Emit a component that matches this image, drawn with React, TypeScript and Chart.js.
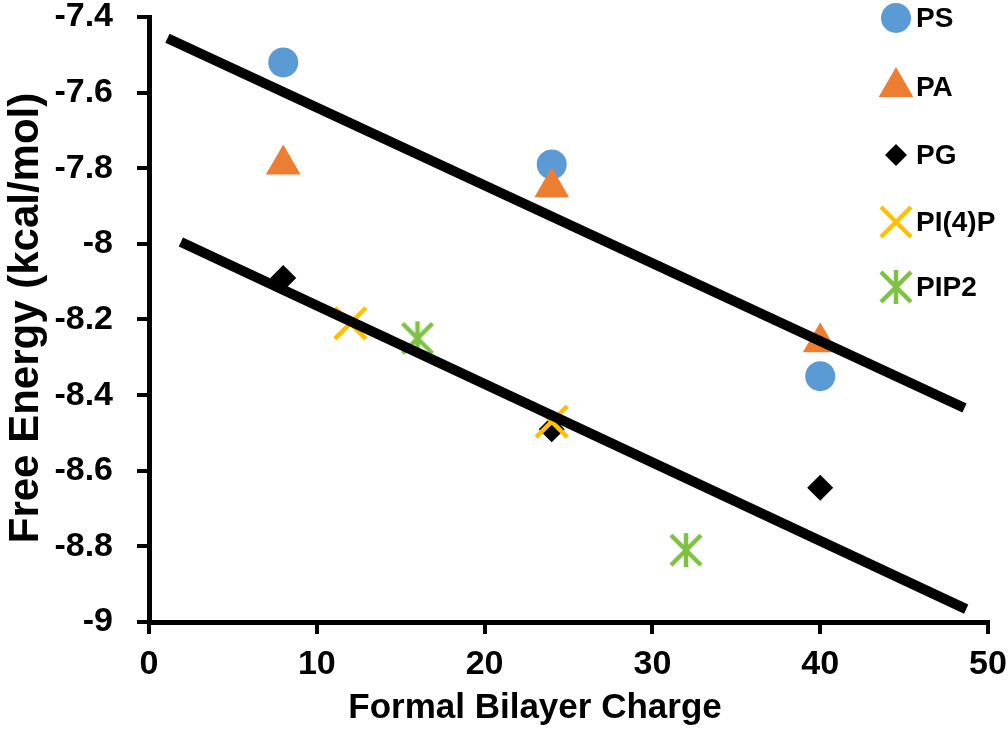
import React, { useEffect, useRef } from 'react';
import { Chart, registerables } from 'chart.js';

Chart.register(...registerables);

// ---- Data ----
const seriesNames = ['PS', 'PA', 'PG', 'PI(4)P', 'PIP2'];
const psCharge = [8, 24, 40];
const psEnergy = [-7.52, -7.79, -8.35];
const paCharge = [8, 24, 40];
const paEnergy = [-7.79, -7.85, -8.26];
const pgCharge = [8, 24, 40];
const pgEnergy = [-8.09, -8.49, -8.645];
const pi4pCharge = [12, 24];
const pi4pEnergy = [-8.21, -8.47];
const pip2Charge = [16, 32];
const pip2Energy = [-8.25, -8.81];
const upperFitX = [1.1, 48.6];
const upperFitY = [-7.456, -8.434];
const lowerFitX = [1.9, 48.7];
const lowerFitY = [-7.995, -8.966];
const xTickValues = [0, 10, 20, 30, 40, 50];
const yTickValues = [-9, -8.8, -8.6, -8.4, -8.2, -8, -7.8, -7.6, -7.4];
const xTitle = 'Formal Bilayer Charge';
const yTitle = 'Free Energy (kcal/mol)';

const COLORS = ['#5B9BD5', '#ED7D31', '#000000', '#FFC000', '#7DC243'];
const FONT = '"Liberation Sans", Arial, Helvetica, sans-serif';

const pts = (xs: number[], ys: number[]) => xs.map((x, i) => ({ x, y: ys[i] }));

function makeStar(color: string): HTMLCanvasElement {
  const c = document.createElement('canvas');
  c.width = 40;
  c.height = 40;
  const g = c.getContext('2d')!;
  g.strokeStyle = color;
  g.lineWidth = 4.5;
  g.beginPath();
  g.moveTo(20 - 15, 20 - 15);
  g.lineTo(20 + 15, 20 + 15);
  g.moveTo(20 + 15, 20 - 15);
  g.lineTo(20 - 15, 20 + 15);
  g.moveTo(20, 20 - 17);
  g.lineTo(20, 20 + 17);
  g.stroke();
  return c;
}

function drawMarker(ctx: CanvasRenderingContext2D, kind: string, x: number, y: number, color: string, img?: HTMLCanvasElement) {
  ctx.save();
  ctx.fillStyle = color;
  ctx.strokeStyle = color;
  ctx.beginPath();
  if (kind === 'circle') {
    ctx.arc(x, y, 15, 0, Math.PI * 2);
    ctx.fill();
  } else if (kind === 'triangle') {
    const r = 20;
    ctx.moveTo(x, y - r);
    ctx.lineTo(x + r * Math.sin(Math.PI * 2 / 3), y - r * Math.cos(Math.PI * 2 / 3));
    ctx.lineTo(x - r * Math.sin(Math.PI * 2 / 3), y - r * Math.cos(Math.PI * 2 / 3));
    ctx.closePath();
    ctx.fill();
  } else if (kind === 'rectRot') {
    const r = 11;
    ctx.moveTo(x - r, y);
    ctx.lineTo(x, y - r);
    ctx.lineTo(x + r, y);
    ctx.lineTo(x, y + r);
    ctx.closePath();
    ctx.fill();
  } else if (kind === 'crossRot') {
    const h = 15;
    ctx.lineWidth = 4.5;
    ctx.moveTo(x - h, y - h);
    ctx.lineTo(x + h, y + h);
    ctx.moveTo(x + h, y - h);
    ctx.lineTo(x - h, y + h);
    ctx.stroke();
  } else if (kind === 'image' && img) {
    ctx.drawImage(img, x - img.width / 2, y - img.height / 2);
  }
  ctx.restore();
}

export default function App() {
  const canvasRef = useRef<HTMLCanvasElement | null>(null);

  useEffect(() => {
    document.body.style.margin = '0';
    const canvas = canvasRef.current;
    if (!canvas) return;
    const star = makeStar(COLORS[4]);
    const kinds = ['circle', 'triangle', 'rectRot', 'crossRot', 'image'];

    const legendPlugin = {
      id: 'customLegend',
      afterDraw(chart: any) {
        const ctx: CanvasRenderingContext2D = chart.ctx;
        const rowsY = [18, 87, 155, 222, 287];
        const markerX = 896;
        const textX = 916;
        seriesNames.forEach((name, i) => {
          drawMarker(ctx, kinds[i], markerX, rowsY[i], COLORS[i], star);
          ctx.save();
          ctx.fillStyle = '#000';
          ctx.font = `bold 28px ${FONT}`;
          ctx.textAlign = 'left';
          ctx.textBaseline = 'middle';
          ctx.fillText(name, textX, rowsY[i] + 1);
          ctx.restore();
        });
      },
    };

    const titlePlugin = {
      id: 'axisTitles',
      afterDraw(chart: any) {
        const ctx: CanvasRenderingContext2D = chart.ctx;
        ctx.save();
        ctx.fillStyle = '#000';
        ctx.font = `bold 35px ${FONT}`;
        ctx.textAlign = 'center';
        ctx.textBaseline = 'alphabetic';
        ctx.fillText(xTitle, 535, 718);
        ctx.translate(38, 318);
        ctx.rotate(-Math.PI / 2);
        ctx.font = `bold 42px ${FONT}`;
        ctx.fillText(yTitle, 0, 0);
        ctx.restore();
      },
    };

    const tickFont = { family: FONT, size: 34, weight: 'bold' as const, lineHeight: 1 };

    const chart = new Chart(canvas, {
      type: 'scatter',
      data: {
        datasets: [
          {
            label: 'upper fit',
            type: 'line',
            data: pts(upperFitX, upperFitY),
            borderColor: '#000',
            borderWidth: 10,
            pointRadius: 0,
            showLine: true,
            fill: false,
            order: 0,
          },
          {
            label: 'lower fit',
            type: 'line',
            data: pts(lowerFitX, lowerFitY),
            borderColor: '#000',
            borderWidth: 10,
            pointRadius: 0,
            showLine: true,
            fill: false,
            order: 0,
          },
          {
            label: seriesNames[0],
            data: pts(psCharge, psEnergy),
            pointStyle: 'circle',
            pointRadius: 15,
            backgroundColor: COLORS[0],
            borderColor: COLORS[0],
            borderWidth: 0,
            order: 5,
          },
          {
            label: seriesNames[1],
            data: pts(paCharge, paEnergy),
            pointStyle: 'triangle',
            pointRadius: 20,
            backgroundColor: COLORS[1],
            borderColor: COLORS[1],
            borderWidth: 0,
            order: 4,
          },
          {
            label: seriesNames[2],
            data: pts(pgCharge, pgEnergy),
            pointStyle: 'rectRot',
            pointRadius: 13,
            backgroundColor: COLORS[2],
            borderColor: COLORS[2],
            borderWidth: 0,
            order: 3,
          },
          {
            label: seriesNames[3],
            data: pts(pi4pCharge, pi4pEnergy),
            pointStyle: 'crossRot',
            pointRadius: 22,
            backgroundColor: COLORS[3],
            borderColor: COLORS[3],
            borderWidth: 4.5,
            order: 2,
          },
          {
            label: seriesNames[4],
            data: pts(pip2Charge, pip2Energy),
            pointStyle: star,
            pointRadius: 20,
            backgroundColor: COLORS[4],
            borderColor: COLORS[4],
            order: 1,
          },
        ],
      },
      options: {
        responsive: false,
        animation: false,
        events: [],
        layout: { autoPadding: false, padding: { top: 17, right: 20, left: 0, bottom: 0 } },
        plugins: {
          legend: { display: false },
          tooltip: { enabled: false },
          title: { display: false },
        },
        scales: {
          x: {
            type: 'linear',
            position: 'bottom',
            min: 0,
            max: 50,
            afterFit: (s: any) => {
              s.height = 107;
              s.paddingLeft = 0;
              s.paddingRight = 0;
            },
            afterBuildTicks: (s: any) => {
              s.ticks = xTickValues.map((v) => ({ value: v }));
            },
            ticks: {
              font: tickFont,
              color: '#000',
              padding: 14,
              maxRotation: 0,
              autoSkip: false,
              callback: (v: any) => String(v),
            },
            grid: {
              display: true,
              drawOnChartArea: false,
              drawTicks: true,
              tickLength: 12,
              color: '#000',
              lineWidth: 4,
            },
            border: { display: true, color: '#000', width: 5 },
            title: { display: false },
          },
          y: {
            type: 'linear',
            min: -9,
            max: -7.4,
            afterFit: (s: any) => {
              s.width = 149;
              s.paddingTop = 0;
              s.paddingBottom = 0;
            },
            afterBuildTicks: (s: any) => {
              s.ticks = yTickValues.map((v) => ({ value: v }));
            },
            ticks: {
              font: tickFont,
              color: '#000',
              padding: 24,
              autoSkip: false,
              callback: (v: any) => String(Number(Number(v).toFixed(1))),
            },
            grid: {
              display: true,
              drawOnChartArea: false,
              drawTicks: true,
              tickLength: 12,
              color: '#000',
              lineWidth: 4,
            },
            border: { display: true, color: '#000', width: 5 },
            title: { display: false },
          },
        },
      },
      plugins: [titlePlugin, legendPlugin],
    } as any);

    return () => {
      chart.destroy();
    };
  }, []);

  return (
    <div style={{ width: 1008, height: 729, background: '#fff' }}>
      <canvas ref={canvasRef} width={1008} height={729} style={{ display: 'block' }} />
    </div>
  );
}
